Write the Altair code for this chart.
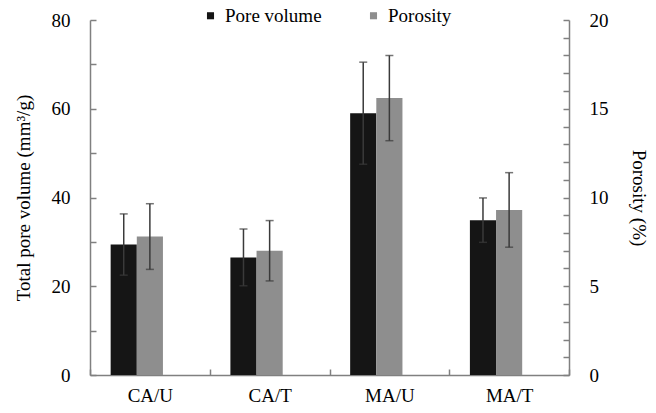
import altair as alt
import pandas as pd

categories = ["CA/U", "CA/T", "MA/U", "MA/T"]
pore_volume = [29.4, 26.5, 59.0, 34.9]
pore_volume_err = [6.9, 6.4, 11.5, 5.0]
porosity = [7.8, 7.0, 15.6, 9.3]
porosity_err = [1.85, 1.7, 2.4, 2.1]
series_names = ["Pore volume", "Porosity"]
colors = ["#151515", "#8e8e8e"]
left_ticks = list(range(0, 81, 10))
right_ticks = list(range(0, 21, 1))

rows = []
for c, v, e in zip(categories, pore_volume, pore_volume_err):
    rows.append({"cat": c, "series": "Pore volume", "value": v, "low": v - e, "high": v + e})
for c, v, e in zip(categories, porosity, porosity_err):
    rows.append({"cat": c, "series": "Porosity", "value": v, "low": v - e, "high": v + e})
df = pd.DataFrame(rows)

FONT = "Liberation Serif"
AXC = "#808080"

x_enc = alt.X("cat:N", sort=categories, title=None,
              scale=alt.Scale(paddingInner=0, paddingOuter=0),
              axis=alt.Axis(labelAngle=0, tickBand="extent", tickSize={"expr": "-6"},
                            labelPadding=17, domainColor=AXC, tickColor=AXC,
                            domainWidth=1.5, tickWidth=1.5))
xoff = alt.XOffset("series:N", scale=alt.Scale(domain=series_names + ["_"],
                                               paddingOuter=0.79, paddingInner=0))
color_enc = alt.Color("series:N",
                      scale=alt.Scale(domain=series_names, range=colors),
                      legend=alt.Legend(title=None, orient="none", direction="horizontal",
                                        legendX=111, legendY=-14, symbolType="square",
                                        symbolSize=50, symbolStrokeWidth=0,
                                        labelFont=FONT, labelFontSize=19,
                                        labelColor="black", columnPadding=42,
                                        labelOffset=5, padding=0))


def group(series, domain, axis, title):
    base = alt.Chart(df).transform_filter(alt.datum.series == series)
    sc = alt.Scale(domain=domain, nice=False)
    bars = base.mark_bar().encode(
        x=x_enc, xOffset=xoff,
        y=alt.Y("value:Q", scale=sc, axis=axis, title=title), color=color_enc)
    rule = base.mark_rule(color="#3a3a3a", strokeWidth=1.5).encode(
        x=x_enc, xOffset=xoff,
        y=alt.Y("low:Q", scale=sc, axis=axis, title=title),
        y2="high:Q")
    cap_hi = base.mark_tick(color="#3a3a3a", thickness=1.5, size=8).encode(
        x=x_enc, xOffset=xoff,
        y=alt.Y("high:Q", scale=sc, axis=axis, title=title))
    cap_lo = base.mark_tick(color="#3a3a3a", thickness=1.5, size=8).encode(
        x=x_enc, xOffset=xoff,
        y=alt.Y("low:Q", scale=sc, axis=axis, title=title))
    return alt.layer(bars, rule, cap_hi, cap_lo)


left_axis = alt.Axis(orient="left", values=left_ticks,
                     labelExpr="datum.value % 20 == 0 ? datum.label : ''",
                     labelOverlap=False,
                     tickSize={"expr": "-6"}, labelPadding=26, grid=False,
                     domainColor=AXC, tickColor=AXC, domainWidth=1.5, tickWidth=1.5,
                     titlePadding=18)
right_axis = alt.Axis(orient="right", values=right_ticks,
                      labelExpr="datum.value % 5 == 0 ? datum.label : ''",
                      labelOverlap=False,
                      tickSize={"expr": "-6"}, labelPadding=26, grid=False,
                      domainColor=AXC, tickColor=AXC, domainWidth=1.5, tickWidth=1.5,
                      titlePadding=20)

g1 = group("Pore volume", [0, 80], left_axis, "Total pore volume (mm³/g)")
g2 = group("Porosity", [0, 20], right_axis, "Porosity (%)")

chart = alt.layer(g1, g2).resolve_scale(y="independent").properties(
    width=479, height=355,
    background="white",
    autosize=alt.AutoSizeParams(type="none"),
    padding={"left": 90, "top": 20, "right": 87, "bottom": 38},
).configure_view(stroke=None).configure_axis(
    labelFont=FONT, titleFont=FONT, labelFontSize=19, titleFontSize=19,
    titleFontWeight="normal", labelColor="black", titleColor="black"
)

chart.save("out.html", embed_options={"renderer": "svg", "actions": False})
